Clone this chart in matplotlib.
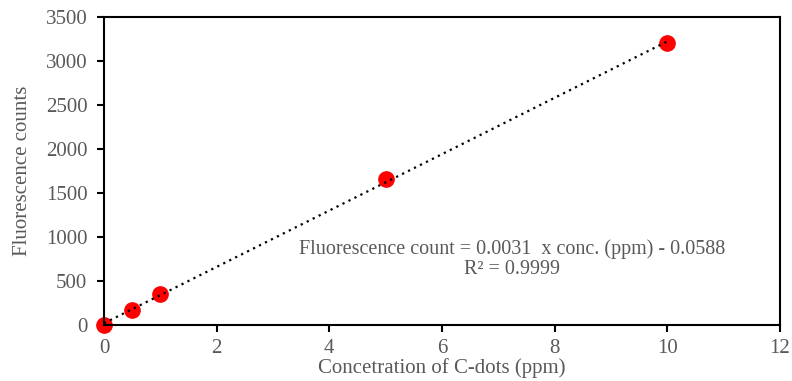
import numpy as np
import matplotlib.pyplot as plt

plt.rcParams['font.family'] = ['Liberation Serif', 'DejaVu Serif']

conc = [0, 0.5, 1, 5, 10]
counts = [0, 172, 352, 1655, 3205]
eq_text = "Fluorescence count = 0.0031  x conc. (ppm) - 0.0588"
r2_text = "R\u00b2 = 0.9999"

grey = "#595959"

fig = plt.figure(figsize=(7.92, 3.81), dpi=100)
ax = fig.add_axes([104/792, 1 - 325/381, (780-104)/792, (325-17)/381])

# linear trendline
slope, icpt = np.polyfit(conc, counts, 1)
xs = np.array([0, 10])
ax.plot(xs, slope*xs + icpt, color="black", linestyle=(0, (1, 2)), linewidth=1.6, zorder=3)
ax.plot(conc, counts, "o", color="#ff0000", markersize=11, zorder=2, clip_on=False)

ax.set_xlim(0, 12)
ax.set_ylim(0, 3500)
ax.set_xticks(np.arange(0, 13, 2))
ax.set_yticks(np.arange(0, 3501, 500))
for s in ax.spines.values():
    s.set_linewidth(1.5)
ax.tick_params(direction="out", length=5, width=1.5, labelsize=15, labelcolor=grey)
ax.tick_params(axis="x", pad=5)
ax.tick_params(axis="y", pad=7)

ax.set_xlabel("Concetration of C-dots (ppm)", fontsize=15, color=grey, labelpad=0)
ax.set_ylabel("Fluorescence counts", fontsize=15, color=grey, labelpad=10)

ax.text(7.24, 862, eq_text, ha="center", va="center", fontsize=14.5, color=grey)
ax.text(7.24, 625, r2_text, ha="center", va="center", fontsize=14.5, color=grey)

fig.savefig("out.png", dpi=100)
